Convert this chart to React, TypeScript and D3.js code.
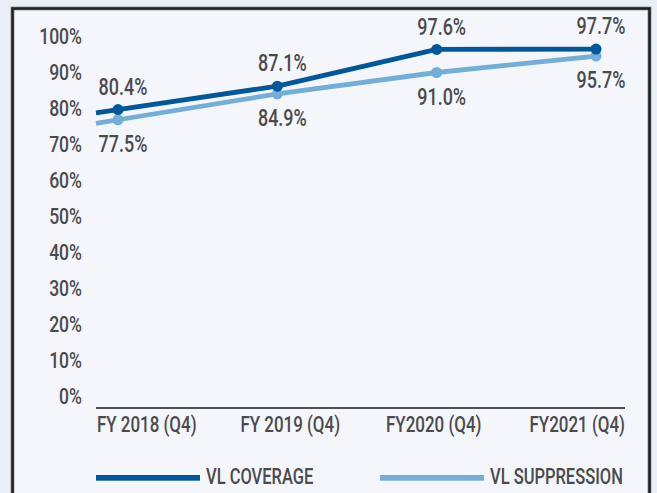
import React from "react";
import * as d3 from "d3";

const categories = ["FY 2018 (Q4)", "FY 2019 (Q4)", "FY2020 (Q4)", "FY2021 (Q4)"];
const coverage = [80.4, 87.1, 97.6, 97.7];
const suppression = [77.5, 84.9, 91.0, 95.7];
const yTicks = [0, 10, 20, 30, 40, 50, 60, 70, 80, 90, 100];
const seriesNames = ["VL COVERAGE", "VL SUPPRESSION"];

const W = 657;
const H = 493;
const DARK = "#00579a";
const LIGHT = "#72aed7";
const TEXT = "#4a4b4d";
const FONT = "Roboto, 'DejaVu Sans Condensed', sans-serif";

type LabelProps = {
  x: number;
  y: number;
  anchor?: "start" | "middle" | "end";
  size?: number;
  sx?: number;
  children: React.ReactNode;
};

function Label({ x, y, anchor = "start", size = 22, sx = 0.79, children }: LabelProps) {
  return (
    <text
      transform={`translate(${x},${y}) scale(${sx},1)`}
      dy="0.36em"
      textAnchor={anchor}
      fontSize={size}
      fontWeight={500}
      fill={TEXT}
    >
      {children}
    </text>
  );
}

export default function App() {
  const y = d3.scaleLinear().domain([0, 100]).range([391, 41]);
  const xLabel = d3.scaleBand<string>().domain(categories).range([75, 649]);
  const xPoint = d3.scalePoint<string>().domain(categories).range([118, 596]);
  const axisStart = 96;
  const axisEnd = 625;
  const axisY = 408;

  const line = d3
    .line<number>()
    .x((_, i) => xPoint(categories[i]) as number)
    .y((d) => y(d));

  const extension = (vals: number[]) => {
    const x0 = xPoint(categories[0]) as number;
    const x1 = xPoint(categories[1]) as number;
    const y0 = y(vals[0]);
    const y1 = y(vals[1]);
    const slope = (y1 - y0) / (x1 - x0);
    return `M${axisStart},${y0 + slope * (axisStart - x0)}L${x0},${y0}`;
  };

  const series = [
    { name: seriesNames[0], vals: coverage, color: DARK, dy: -23 },
    { name: seriesNames[1], vals: suppression, color: LIGHT, dy: 24 },
  ];

  return (
    <svg
      width={W}
      height={H}
      style={{ position: "fixed", left: 0, top: 0, display: "block" }}
      fontFamily={FONT}
    >
      <rect x={0} y={0} width={W} height={H} fill="#e9eef7" />
      <rect x={12.5} y={8.5} width={637} height={H + 20} fill="#f4f6fb" stroke="#9a9ca2" strokeWidth={4} />
      <rect x={12.5} y={8.5} width={637} height={H + 20} fill="none" stroke="#1f1f22" strokeWidth={2.5} />

      {yTicks.map((t) => (
        <Label key={t} x={82} y={y(t) + (50 - t) * 0.1 - 0.5} anchor="end" size={22.5} sx={0.78}>
          {t}%
        </Label>
      ))}

      <line x1={axisStart} x2={axisEnd} y1={axisY} y2={axisY} stroke="#4f5054" strokeWidth={2} />
      {categories.map((c) => (
        <Label key={c} x={(xLabel(c) as number) + xLabel.bandwidth() / 2} y={424} anchor="middle" size={22} sx={0.77}>
          {c}
        </Label>
      ))}

      {series
        .slice()
        .reverse()
        .map((s) => (
          <g key={s.name}>
            <path d={extension(s.vals)} fill="none" stroke={s.color} strokeWidth={4.8} />
            <path d={line(s.vals) || ""} fill="none" stroke={s.color} strokeWidth={4.8} strokeLinejoin="round" />
            {s.vals.map((v, i) => (
              <circle key={i} cx={xPoint(categories[i]) as number} cy={y(v)} r={5.5} fill={s.color} />
            ))}
          </g>
        ))}

      {series.map((s) =>
        s.vals.map((v, i) => (
          <Label
            key={s.name + i}
            x={(xPoint(categories[i]) as number) + 5}
            y={y(v) + s.dy}
            anchor="middle"
            size={23}
            sx={0.78}
          >
            {v.toFixed(1)}%
          </Label>
        ))
      )}

      {series.map((s, i) => {
        const lx = i === 0 ? 96 : 380;
        return (
          <g key={"leg" + s.name}>
            <rect x={lx} y={475} width={104} height={5.7} fill={s.color} />
            <Label x={lx + 110} y={476} size={22} sx={0.75}>
              {s.name}
            </Label>
          </g>
        );
      })}
    </svg>
  );
}
